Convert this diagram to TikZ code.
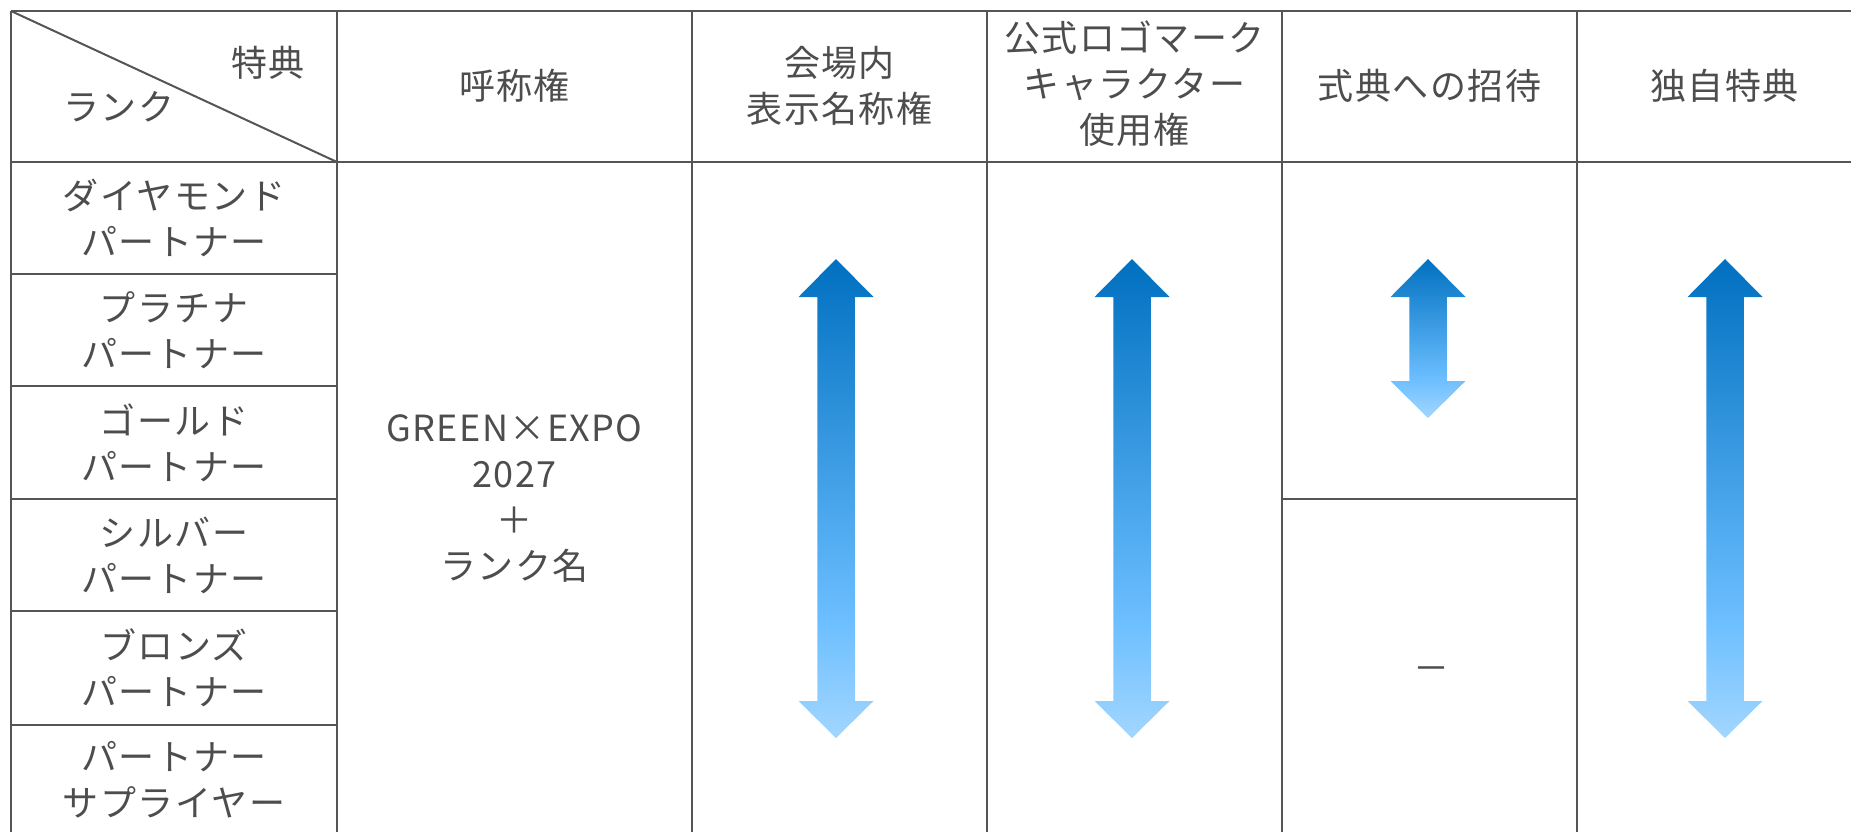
\documentclass[tikz,border=0pt]{standalone}
\usepackage{fontspec}
\setmainfont[LetterSpace=4]{Noto Sans CJK JP}
\usetikzlibrary{positioning}

\definecolor{gridline}{HTML}{555555}
\definecolor{textgray}{HTML}{4D4D4D}
\definecolor{arrdark}{HTML}{0070C0}
\definecolor{arrmid}{HTML}{6BBEFF}
\definecolor{arrlight}{HTML}{A2D6FF}

% path covers 25bp..75bp of the shading
\pgfdeclareverticalshading{arrowfill}{100bp}{color(0bp)=(arrlight); color(25bp)=(arrlight); color(37.5bp)=(arrmid); color(75bp)=(arrdark); color(100bp)=(arrdark)}

% #1 centre x, #2 top tip, #3 bottom tip
\newcommand{\rankarrow}[3]{%
  \shade[shading=arrowfill] (#1,#2) -- (#1+37.5,#2+38) -- (#1+18.75,#2+38)
    -- (#1+18.75,#3-37) -- (#1+37.5,#3-37) -- (#1,#3) -- (#1-37.5,#3-37)
    -- (#1-18.75,#3-37) -- (#1-18.75,#2+38) -- (#1-37.5,#2+38) -- cycle;}

\begin{document}
\begin{tikzpicture}[x=0.5pt,y=-0.5pt,
  cell/.style={text=textgray,align=center,inner sep=0pt,font=\fontsize{18pt}{23pt}\selectfont},
  rule/.style={draw=gridline,line width=1pt}]

  \useasboundingbox (0,0) rectangle (1851,832);
  \clip (0,0) rectangle (1851,832);

  % grid
  \draw[rule] (11,11) -- (1851,11);
  \draw[rule,line width=1.3pt] (11,162) -- (1851,162);
  \foreach \y in {274,386,499,611,725}
    \draw[rule] (11,\y) -- (337,\y);
  \draw[rule] (1282,499) -- (1577,499);
  \foreach \x in {11,337,692,987,1282,1577}
    \draw[rule] (\x,11) -- (\x,832);
  \draw[rule] (11,11) -- (337,162);

  % header
  \node[cell] (hd-tokuten) at (268,63)  {特典};
  \node[cell] (hd-rank)    at (119,107) {ランク};
  \node[cell] (hd-call)    at (514.5,86) {呼称権};
  \node[cell] (hd-venue)   at (839.5,86) {会場内\\表示名称権};
  \node[cell] (hd-logo)    at (1134.5,84) {公式ロゴマーク\\キャラクター\\使用権};
  \node[cell] (hd-invite)  at (1429.5,86) {式典への招待};
  \node[cell] (hd-own)     at (1724.5,86) {独自特典};

  % ranks
  \node[cell] (r1) at (174,218) {ダイヤモンド\\パートナー};
  \node[cell] (r2) at (174,330) {プラチナ\\パートナー};
  \node[cell] (r3) at (174,442.5) {ゴールド\\パートナー};
  \node[cell] (r4) at (174,555) {シルバー\\パートナー};
  \node[cell] (r5) at (174,668) {ブロンズ\\パートナー};
  \node[cell] (r6) at (174,780) {パートナー\\サプライヤー};

  % contents
  \node[cell] (call) at (514.5,499) {GREEN×EXPO\\2027\\＋\\ランク名};
  \node[cell] (none) at (1431,674) {－};

  \rankarrow{836}{259}{738}
  \rankarrow{1132}{259}{738}
  \rankarrow{1428}{259}{418}
  \rankarrow{1725}{259}{738}
\end{tikzpicture}
\end{document}
